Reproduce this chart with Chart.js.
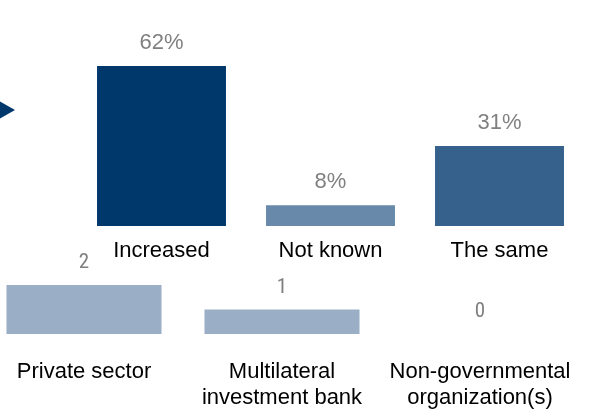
<!DOCTYPE html>
<html>
<head>
<meta charset="utf-8">
<script src="https://cdn.jsdelivr.net/npm/chart.js@4.4.1/dist/chart.umd.min.js"></script>
<style>
    html, body { margin: 0; padding: 0; background: #ffffff; overflow: hidden; }
    body { width: 593px; height: 417px; position: relative; }
    canvas { position: absolute; }
    #changeChart { left: 0px; top: 0px; }
    #sectorChart { left: -15px; top: 240px; }
</style>
</head>
<body>
<canvas id="changeChart" width="593" height="265"></canvas>
<canvas id="sectorChart" width="594" height="177"></canvas>
<script>
// Share of answers (percent)
const changeCategories = ["Increased", "Not known", "The same"];
const changeValues = [62, 8, 31];
const changeColors = ["#00386c", "#6889aa", "#35618c"];

// Number of answers by type of organization
const sectorCategories = [["Private sector"], ["Multilateral", "investment bank"], ["Non-governmental", "organization(s)"]];
const sectorValues = [2, 1, 0];
const sectorColor = "#9aafc5";

const labelFont = '22px "Liberation Sans", Arial, sans-serif';
const valueGrey = "#808080";

// Writes the value above each bar and the category name underneath
const barLabels = {
    id: 'barLabels',
    afterDatasetsDraw(chart, args, opts) {
        const ctx = chart.ctx;
        const meta = chart.getDatasetMeta(0);
        const values = chart.data.datasets[0].data;
        const bottom = chart.chartArea.bottom;
        ctx.save();
        ctx.textAlign = 'center';
        ctx.textBaseline = 'alphabetic';
        meta.data.forEach((bar, i) => {
            ctx.font = opts.valueFont;
            ctx.fillStyle = valueGrey;
            ctx.fillText(values[i] + opts.suffix, bar.x, bar.y - 17);

            let lines = chart.data.labels[i];
            if (!Array.isArray(lines)) lines = [lines];
            ctx.font = labelFont;
            ctx.fillStyle = "#000000";
            lines.forEach((line, j) => {
                ctx.fillText(line, bar.x, bottom + opts.labelOffset + j * 26);
            });
        });
        ctx.restore();
    }
};

// Small arrow head at the left edge
const arrowHead = {
    id: 'arrowHead',
    afterDraw(chart) {
        const ctx = chart.ctx;
        ctx.save();
        ctx.fillStyle = "#00386c";
        ctx.beginPath();
        ctx.moveTo(-6, 98);
        ctx.lineTo(15, 110);
        ctx.lineTo(-6, 122);
        ctx.closePath();
        ctx.fill();
        ctx.restore();
    }
};

new Chart(document.getElementById('changeChart'), {
    type: 'bar',
    data: {
        labels: changeCategories,
        datasets: [{
            data: changeValues,
            backgroundColor: changeColors,
            borderWidth: 0,
            barPercentage: 0.763,
            categoryPercentage: 1
        }]
    },
    options: {
        responsive: false,
        animation: false,
        events: [],
        layout: { padding: { left: 77, right: 9, top: 0, bottom: 39 } },
        plugins: {
            legend: { display: false },
            tooltip: { enabled: false },
            barLabels: { suffix: '%', valueFont: '22px "Liberation Sans", Arial, sans-serif', labelOffset: 31 }
        },
        scales: {
            x: { display: false },
            y: { display: false, min: 0, max: 87.6 }
        }
    },
    plugins: [barLabels, arrowHead]
});

new Chart(document.getElementById('sectorChart'), {
    type: 'bar',
    data: {
        labels: sectorCategories,
        datasets: [{
            data: sectorValues,
            backgroundColor: sectorColor,
            borderWidth: 0,
            barPercentage: 0.783,
            categoryPercentage: 1
        }]
    },
    options: {
        responsive: false,
        animation: false,
        events: [],
        layout: { padding: { left: 0, right: 0, top: 0, bottom: 83 } },
        plugins: {
            legend: { display: false },
            tooltip: { enabled: false },
            barLabels: { suffix: '', valueFont: '21px "Liberation Sans Narrow", "Roboto Condensed", Arial, sans-serif', labelOffset: 44 }
        },
        scales: {
            x: { display: false },
            y: { display: false, min: 0, max: 3.837 }
        }
    },
    plugins: [barLabels]
});
</script>
</body>
</html>
